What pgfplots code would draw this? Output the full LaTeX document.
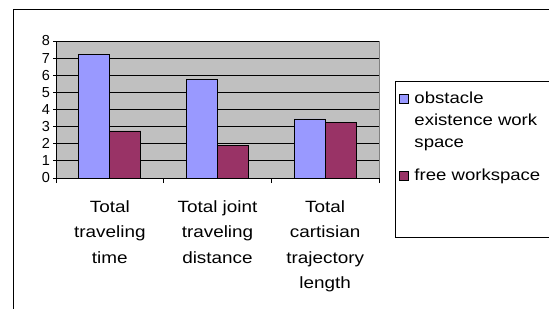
\documentclass[border=0pt]{standalone}
\usepackage{pgfplots}
\pgfplotsset{compat=1.18}
\usepackage{fontspec}
\setmainfont{Liberation Sans}
\newfontfamily\cf[FakeStretch=1.16]{Liberation Sans}
\definecolor{barblue}{HTML}{9999FF}
\definecolor{barred}{HTML}{993366}
\definecolor{plotbg}{HTML}{C0C0C0}
\definecolor{plotborder}{HTML}{808080}
\begin{document}
\begin{tikzpicture}
\useasboundingbox (0pt,0pt) rectangle (549pt,308pt);
\clip (0pt,0pt) rectangle (549pt,308pt);
\fill[white] (0pt,0pt) rectangle (549pt,308pt);
\draw[line width=1pt] (13pt,298pt) rectangle (575pt,-20pt);
\begin{axis}[
  at={(56pt,130pt)}, anchor=south west,
  scale only axis, width=323pt, height=137pt,
  ybar=0pt, bar width=31pt,
  xmin=-0.5, xmax=2.5, ymin=0, ymax=8,
  ytick={0,1,2,3,4,5,6,7,8},
  xtick={0,1,2},
  xticklabels={{Total\\traveling\\time},{Total joint\\traveling\\distance},{Total\\cartisian\\trajectory\\length}},
  xticklabel style={align=center, font=\cf\fontsize{16.3}{25.5}\selectfont, yshift=-16.5pt},
  yticklabel style={font=\fontsize{14.5}{14.5}\selectfont},
  /pgf/number format/assume math mode=true,
  x tick style={draw=none},
  extra x ticks={-0.5,0.5,1.5,2.5},
  extra x tick labels={},
  extra x tick style={x tick style={draw=black, line width=0.8pt}, major tick length=5pt, tick align=outside},
  y tick style={draw=black, line width=0.8pt},
  major tick length=5pt,
  tick align=outside,
  axis lines=left,
  axis line style={-, black, line width=0.8pt},
  axis background/.style={fill=plotbg, draw=plotborder, line width=0.8pt},
  ymajorgrids, grid style={black, line width=0.8pt},
  legend style={at={(1.0495,0.7088)}, anchor=north west, draw=black, line width=0.8pt, fill=white,
    font=\cf\fontsize{16}{22}\selectfont, inner xsep=4pt, inner ysep=9pt,
    nodes={text depth=}, cells={anchor=base west}, row sep=13.5pt, column sep=4pt},
  legend image code/.code={\draw[#1, line width=0.6pt] (0pt,0.5pt) rectangle (8.5pt,9.5pt);},
]
\addplot[fill=barblue, draw=black, line width=0.8pt] coordinates {(0,7.23) (1,5.77) (2,3.45)};
\addplot[fill=barred, draw=black, line width=0.8pt] coordinates {(0,2.75) (1,1.91) (2,3.26)};
\legend{{\parbox[t]{140pt}{obstacle\\existence work\\space}},{\parbox[t]{140pt}{free workspace\rule[-46pt]{0pt}{1pt}}}}
\end{axis}
\end{tikzpicture}
\end{document}
